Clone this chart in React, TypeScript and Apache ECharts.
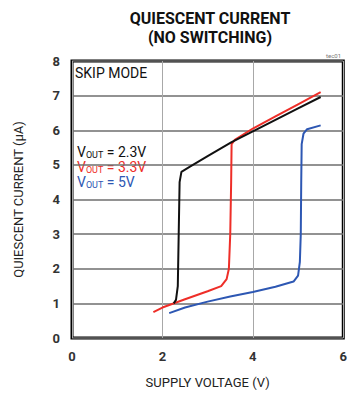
import React, { useEffect, useRef } from "react";
import * as echarts from "echarts";

const xTicks = [0, 2, 4, 6];
const yTicks = [0, 1, 2, 3, 4, 5, 6, 7, 8];

const vout23: number[][] = [
  [2.25, 1.0], [2.3, 1.1], [2.34, 1.5], [2.36, 3.0], [2.38, 4.5], [2.42, 4.8],
  [2.6, 4.94], [3.0, 5.25], [3.53, 5.66], [4.0, 5.97], [4.5, 6.3], [5.0, 6.63], [5.5, 6.96],
];
const vout33: number[][] = [
  [1.8, 0.75], [2.0, 0.88], [2.5, 1.12], [3.0, 1.35], [3.3, 1.5], [3.42, 1.7],
  [3.47, 2.0], [3.5, 3.0], [3.52, 4.5], [3.53, 5.6], [3.6, 5.72], [4.0, 6.05],
  [4.5, 6.4], [5.0, 6.75], [5.5, 7.1],
];
const vout5: number[][] = [
  [2.15, 0.72], [2.5, 0.88], [3.0, 1.05], [3.5, 1.2], [4.0, 1.33], [4.5, 1.48],
  [4.9, 1.63], [5.0, 1.8], [5.04, 2.2], [5.06, 3.0], [5.07, 4.5], [5.08, 5.6],
  [5.12, 5.9], [5.2, 6.03], [5.5, 6.14],
];

const seriesNames = ["2.3V", "3.3V", "5V"];
const seriesColors = ["#111111", "#ee2e28", "#2d57b3"];
const seriesData = [vout23, vout33, vout5];

const FONT = "'Liberation Sans Narrow', 'Arial Narrow', Roboto, 'Liberation Sans', sans-serif";

export default function App() {
  const ref = useRef<HTMLDivElement>(null);
  useEffect(() => {
    document.body.style.margin = "0";
    const chart = echarts.init(ref.current!, undefined, { renderer: "svg" });
    chart.setOption({
      animation: false,
      backgroundColor: "#ffffff",
      grid: {
        left: 72, top: 61, right: 2, bottom: 50,
        show: true, borderColor: "#000", borderWidth: 3, backgroundColor: "transparent",
      },
      xAxis: {
        type: "value", min: xTicks[0], max: xTicks[xTicks.length - 1], interval: 2,
        axisLine: { show: false }, axisTick: { show: false },
        splitLine: { show: true, lineStyle: { color: "#a8a8a8", width: 1 } },
        axisLabel: { color: "#333", fontSize: 13, fontFamily: FONT, fontWeight: "bold", margin: 12 },
        name: "SUPPLY VOLTAGE (V)", nameLocation: "middle", nameGap: 38,
        nameTextStyle: { color: "#222", fontSize: 13, fontFamily: FONT },
      },
      yAxis: {
        type: "value", min: yTicks[0], max: yTicks[yTicks.length - 1], interval: 1,
        axisLine: { show: false }, axisTick: { show: false },
        splitLine: { show: true, lineStyle: { color: "#6e6e6e", width: 1.6 } },
        axisLabel: { color: "#333", fontSize: 13, fontFamily: FONT, fontWeight: "bold", margin: 12 },
        name: "QUIESCENT CURRENT (µA)", nameLocation: "middle", nameGap: 47, nameRotate: 90,
        nameTextStyle: { color: "#222", fontSize: 13, fontFamily: FONT },
      },
      series: seriesData.map((d, i) => ({
        type: "line", name: seriesNames[i], data: d, showSymbol: false, smooth: false,
        lineStyle: { color: seriesColors[i], width: 2 }, z: 3 + (i === 0 ? 1 : 0),
      })),
      graphic: [
        { type: "text", x: 210, y: 10, style: { text: "QUIESCENT CURRENT", fill: "#111", font: `bold 16px ${FONT}`, align: "center" } },
        { type: "text", x: 210, y: 29, style: { text: "(NO SWITCHING)", fill: "#111", font: `bold 16px ${FONT}`, align: "center" } },
        { type: "text", x: 75, y: 66, style: { text: "SKIP MODE", fill: "#111", font: `14px ${FONT}` } },
        { type: "text", x: 326, y: 52, style: { text: "tec01", fill: "#777", font: `6px ${FONT}` } },
        ...seriesNames.map((n, i) => ({
          type: "text", x: 77, y: 145 + i * 15,
          style: {
            text: `{v|V}{s|OUT}{v| = ${n}}`,
            rich: {
              v: { fill: seriesColors[i], font: `14px ${FONT}` },
              s: { fill: seriesColors[i], font: `9px ${FONT}`, padding: [5, 0, 0, 0] },
            },
          },
        })),
      ],
    });
    return () => chart.dispose();
  }, []);
  return <div ref={ref} style={{ position: "absolute", left: 0, top: 0, width: 350, height: 394 }} />;
}
